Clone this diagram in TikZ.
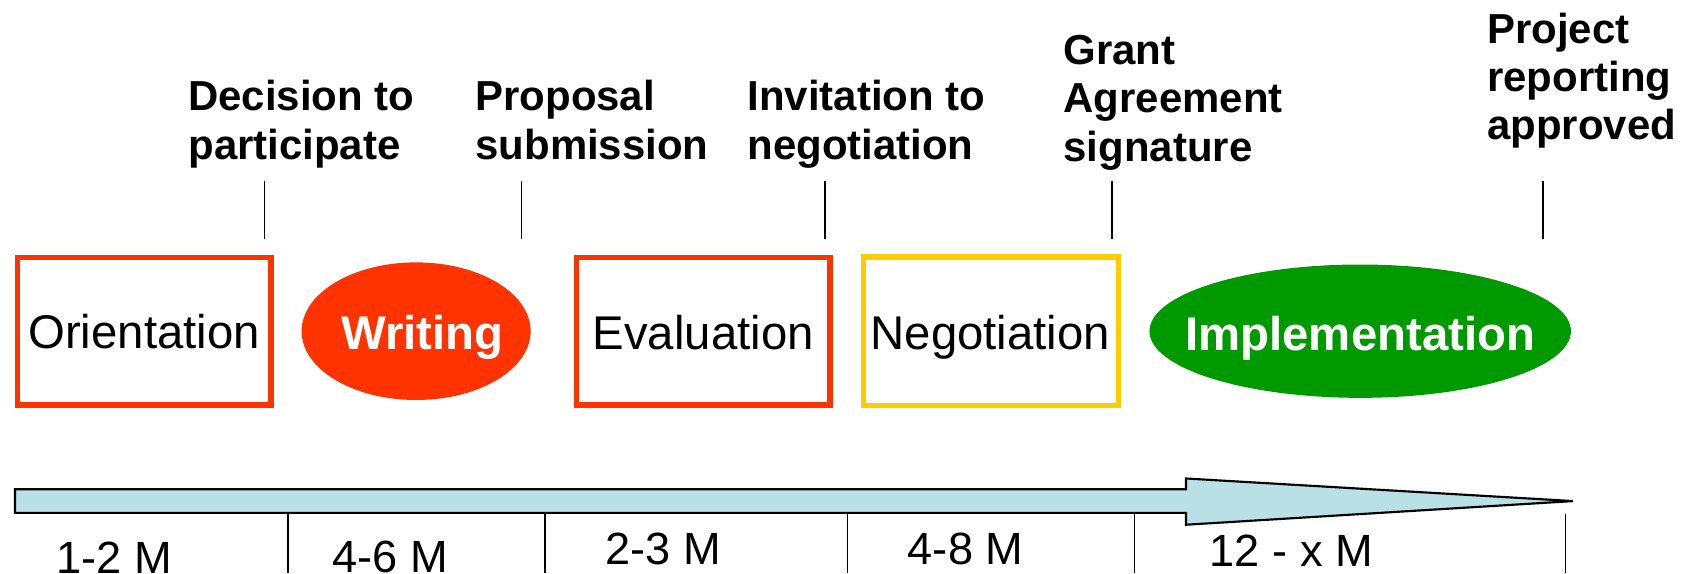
\documentclass[tikz,border=0pt]{standalone}
\usepackage{fontspec}
\setmainfont{Liberation Sans}
\usetikzlibrary{shapes.geometric}
\definecolor{redbox}{RGB}{255,51,0}
\definecolor{yellowbox}{RGB}{255,204,0}
\definecolor{greenell}{RGB}{0,153,0}
\definecolor{arrowfill}{RGB}{185,224,228}
\tikzset{
  phasebox/.style={draw=#1, line width=5pt, minimum width=236pt, minimum height=137pt, inner sep=0pt, font=\fontsize{44}{50}\selectfont},
  phaseell/.style={text=white, inner sep=0pt, font=\fontsize{44}{50}\selectfont\bfseries},
  milestone/.style={anchor=base west, align=left, inner sep=0pt, font=\fontsize{39}{45}\selectfont\bfseries},
  duration/.style={anchor=base, inner sep=0pt, font=\fontsize{42}{48}\selectfont},
  tick/.style={line width=1.5pt}
}
\begin{document}
\begin{tikzpicture}[x=1pt,y=-1pt]
\useasboundingbox (0,0) rectangle (1568,533);
% phases
\node[phasebox=redbox] (orient) at (134,308) {Orientation};
\fill[redbox] (387,308) ellipse [x radius=106.5pt, y radius=64pt];
\node[phaseell] (writ) at (393,314) {Writing};
\node[phasebox=redbox, text depth=0pt] (eval) at (654,308) {\raisebox{-2pt}{Evaluation}};
\draw[yellowbox, line width=5pt] (803,239) rectangle (1040,377);
\node[font=\fontsize{44}{50}\selectfont, inner sep=0pt] (nego) at (921,314) {Negotiation};
\fill[greenell] (1265,308) ellipse [x radius=196pt, y radius=62pt];
\node[phaseell] (impl) at (1265,315) {Implementation};
% milestones
\node[milestone] (m1) at (175,148) {Decision to\\participate};
\node[milestone] (m2) at (442,148) {Proposal\\submission};
\node[milestone] (m3) at (695,148) {Invitation to\\negotiation};
\node[milestone] (m4) at (989,150) {Grant\\Agreement\\signature};
\node[milestone] (m5) at (1383,130) {Project\\reporting\\approved};
% top ticks
\foreach \i/\x in {1/246,2/485,3/767,4/1034,5/1435}{
  \coordinate (ta\i) at (\x,168);
  \coordinate (tb\i) at (\x,222);
  \draw[tick] (ta\i) -- (tb\i);
}
% time arrow
\coordinate (a1) at (14,455);
\coordinate (a2) at (1103,455);
\coordinate (a3) at (1103,445);
\coordinate (tip) at (1463,466);
\coordinate (a4) at (1103,488);
\coordinate (a5) at (1103,477);
\coordinate (a6) at (14,477);
\draw[fill=arrowfill, line width=2pt, line join=miter] (a1) -- (a2) -- (a3) -- (tip) -- (a4) -- (a5) -- (a6) -- cycle;
% bottom ticks
\foreach \i/\x/\y in {1/268/477,2/507/477,3/788/477,4/1055/477,5/1456/478}{
  \coordinate (ba\i) at (\x,\y);
  \coordinate (bb\i) at (\x,533);
  \draw[tick] (ba\i) -- (bb\i);
}
% durations
\node[duration] (d1) at (106,533) {1-2 M};
\node[duration] (d2) at (363,532) {4-6 M};
\node[duration] (d3) at (617,525) {2-3 M};
\node[duration] (d4) at (898,525) {4-8 M};
\node[duration] (d5) at (1201,527) {12 - x M};
\end{tikzpicture}
\end{document}
